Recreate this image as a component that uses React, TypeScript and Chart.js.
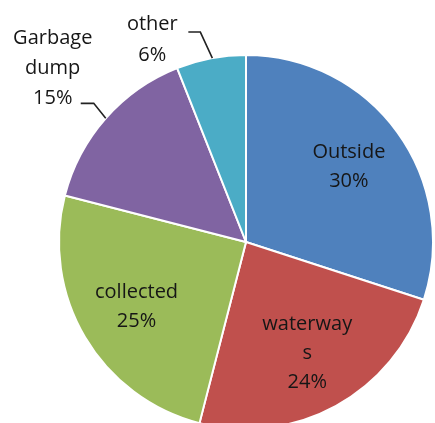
import React, { useEffect, useRef } from "react";
import { Chart, registerables } from "chart.js";

Chart.register(...registerables);

const categories = ["Outside", "waterways", "collected", "Garbage dump", "other"];
const values = [30, 24, 25, 15, 6];
const colors = ["#4F81BD", "#C0504D", "#9BBB59", "#8064A2", "#4BACC6"];
// label lines as displayed
const labelLines = [
  ["Outside", "30%"],
  ["waterway", "s", "24%"],
  ["collected", "25%"],
  ["Garbage", "dump", "15%"],
  ["other", "6%"],
];

const FONT = "20px 'Open Sans', sans-serif";

const labelPlugin = {
  id: "pieLabels",
  afterDatasetsDraw(chart: any) {
    const ctx = chart.ctx;
    const meta = chart.getDatasetMeta(0);
    ctx.save();
    ctx.font = FONT;
    ctx.fillStyle = "#161616";
    ctx.textAlign = "center";
    ctx.textBaseline = "middle";
    const lineH = 29;
    meta.data.forEach((arc: any, i: number) => {
      const { x, y, startAngle, endAngle, outerRadius } = arc.getProps(
        ["x", "y", "startAngle", "endAngle", "outerRadius"],
        true
      );
      const mid = (startAngle + endAngle) / 2;
      const lines = labelLines[i];
      if (i <= 2) {
        const r = outerRadius * 0.68;
        const cx = x + Math.cos(mid) * r;
        const cy = y + Math.sin(mid) * r;
        const top = cy - ((lines.length - 1) * lineH) / 2;
        lines.forEach((t, k) => ctx.fillText(t, cx, top + k * lineH));
      } else if (i === 3) {
        // Garbage dump: outside, upper-left
        const ex = x + Math.cos(mid) * outerRadius;
        const ey = y + Math.sin(mid) * outerRadius;
        const lx = ex - 53;
        const ly = ey - 80;
        lines.forEach((t, k) => ctx.fillText(t, lx, ly + k * 30));
        ctx.strokeStyle = "#222";
        ctx.lineWidth = 1.6;
        ctx.beginPath();
        ctx.moveTo(ex - 25, ey - 15);
        ctx.lineTo(ex - 12, ey - 15);
        ctx.lineTo(ex, ey);
        ctx.stroke();
      } else {
        const a = startAngle + (endAngle - startAngle) * 0.52;
        const ex = x + Math.cos(a) * outerRadius;
        const ey = y + Math.sin(a) * outerRadius;
        const lx = ex - 60;
        const ly = ey - 34;
        lines.forEach((t, k) => ctx.fillText(t, lx, ly + k * 31));
        ctx.strokeStyle = "#222";
        ctx.lineWidth = 1.6;
        ctx.beginPath();
        ctx.moveTo(ex - 24, ey - 26);
        ctx.lineTo(ex - 12, ey - 26);
        ctx.lineTo(ex, ey);
        ctx.stroke();
      }
    });
    ctx.restore();
  },
};

export default function App() {
  const ref = useRef<HTMLCanvasElement>(null);
  useEffect(() => {
    document.body.style.margin = "0";
    const chart = new Chart(ref.current!, {
      type: "pie",
      data: {
        labels: categories,
        datasets: [
          {
            data: values,
            backgroundColor: colors,
            borderColor: "#ffffff",
            borderWidth: 2,
          },
        ],
      },
      options: {
        responsive: false,
        animation: false,
        layout: { padding: { left: 58, right: 1, top: 54, bottom: 54 } },
        plugins: {
          legend: { display: false },
          tooltip: { enabled: false },
        },
      },
      plugins: [labelPlugin],
    });
    return () => chart.destroy();
  }, []);
  return (
    <div style={{ position: "fixed", left: 0, top: 0, width: 435, height: 423, overflow: "hidden", background: "#fff" }}>
      <canvas ref={ref} width={435} height={484} style={{ width: 435, height: 484 }} />
    </div>
  );
}
